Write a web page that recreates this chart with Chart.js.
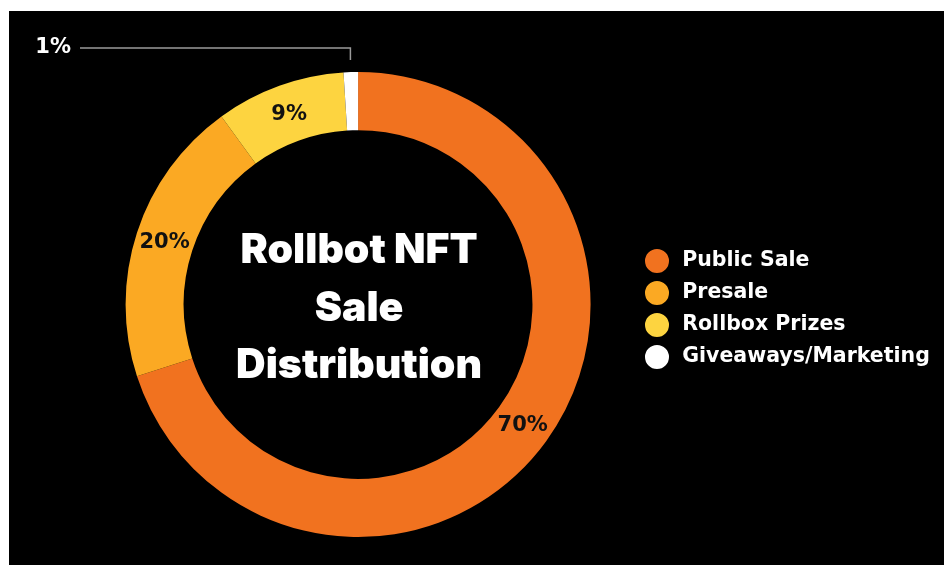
<!DOCTYPE html>
<html><head><meta charset="utf-8">
<script src="https://cdn.jsdelivr.net/npm/chart.js@4/dist/chart.umd.min.js"></script>
<style>
html,body{margin:0;padding:0;background:#fff;width:944px;height:565px;overflow:hidden}
#wrap{position:absolute;left:9px;top:11px;width:935px;height:554px;background:#000}
</style></head><body>
<div id="wrap"><canvas id="c"></canvas></div>
<script>
const categories = ['Public Sale', 'Presale', 'Rollbox Prizes', 'Giveaways/Marketing'];
const shares = [70, 20, 9, 1];
const sliceColors = ['#F1721F', '#FBA923', '#FDD440', '#FFFFFF'];
const titleLines = ['Rollbot NFT', 'Sale', 'Distribution'];
const outsideIndex = 3; // slice labelled outside with a leader line

const legendNudge = {
  id: 'legendNudge',
  afterLayout(chart) {
    const lg = chart.legend;
    const dx = 631 - lg.left, dy = 4.5;
    lg.left += dx; lg.right += dx; lg.top += dy; lg.bottom += dy;
  }
};

const centerTitle = {
  id: 'centerTitle',
  afterDatasetsDraw(chart) {
    const arc = chart.getDatasetMeta(0).data[0];
    const ctx = chart.ctx;
    ctx.save();
    ctx.fillStyle = '#fff';
    ctx.font = '900 41px Inter, "DejaVu Sans", sans-serif';
    ctx.textAlign = 'center';
    ctx.textBaseline = 'alphabetic';
    const offs = [-41.5, 16.5, 73.5];
    titleLines.forEach((t, i) => ctx.fillText(t, arc.x + 1, arc.y + offs[i]));
    ctx.restore();
  }
};

const sliceLabels = {
  id: 'sliceLabels',
  afterDatasetsDraw(chart) {
    const ctx = chart.ctx;
    const meta = chart.getDatasetMeta(0);
    ctx.save();
    ctx.font = 'bold 21px "DejaVu Sans", sans-serif';
    ctx.textBaseline = 'middle';
    meta.data.forEach((arc, i) => {
      const txt = shares[i] + '%';
      if (i === outsideIndex) {
        const a = (arc.startAngle + arc.endAngle) / 2;
        const R = arc.outerRadius;
        const x0 = arc.x + Math.cos(a) * (R + 12);
        const y0 = arc.y + Math.sin(a) * (R + 12);
        const yTop = arc.y - R - 24;
        const xEnd = 71;
        ctx.strokeStyle = '#9a9a9a';
        ctx.lineWidth = 1.5;
        ctx.beginPath();
        ctx.moveTo(x0, y0);
        ctx.lineTo(x0, yTop);
        ctx.lineTo(xEnd, yTop);
        ctx.stroke();
        ctx.fillStyle = '#fff';
        ctx.textAlign = 'right';
        ctx.fillText(txt, xEnd - 9, yTop);
      } else {
        const p = arc.getCenterPoint();
        ctx.fillStyle = '#111';
        ctx.textAlign = 'center';
        ctx.fillText(txt, p.x, p.y + 1);
      }
    });
    ctx.restore();
  }
};

new Chart(document.getElementById('c'), {
  type: 'doughnut',
  data: {
    labels: categories,
    datasets: [{
      data: shares,
      backgroundColor: sliceColors,
      borderWidth: 0,
      hoverOffset: 0
    }]
  },
  options: {
    responsive: true,
    maintainAspectRatio: false,
    animation: false,
    cutout: '75%',
    layout: { padding: { left: 63, right: 0, top: 61, bottom: 28 } },
    plugins: {
      tooltip: { enabled: false },
      legend: {
        position: 'right',
        labels: {
          boxWidth: 30,
          boxHeight: 30,
          padding: 2,
          color: '#fff',
          font: { family: '"DejaVu Sans", sans-serif', weight: 'bold', size: 20.5 },
          generateLabels: () => categories.map((t, i) => ({
            text: t,
            fillStyle: sliceColors[i],
            strokeStyle: '#000',
            lineWidth: 6,
            borderRadius: 15,
            fontColor: '#fff',
            hidden: false,
            index: i
          }))
        }
      }
    }
  },
  plugins: [legendNudge, centerTitle, sliceLabels]
});
</script>
</body></html>
